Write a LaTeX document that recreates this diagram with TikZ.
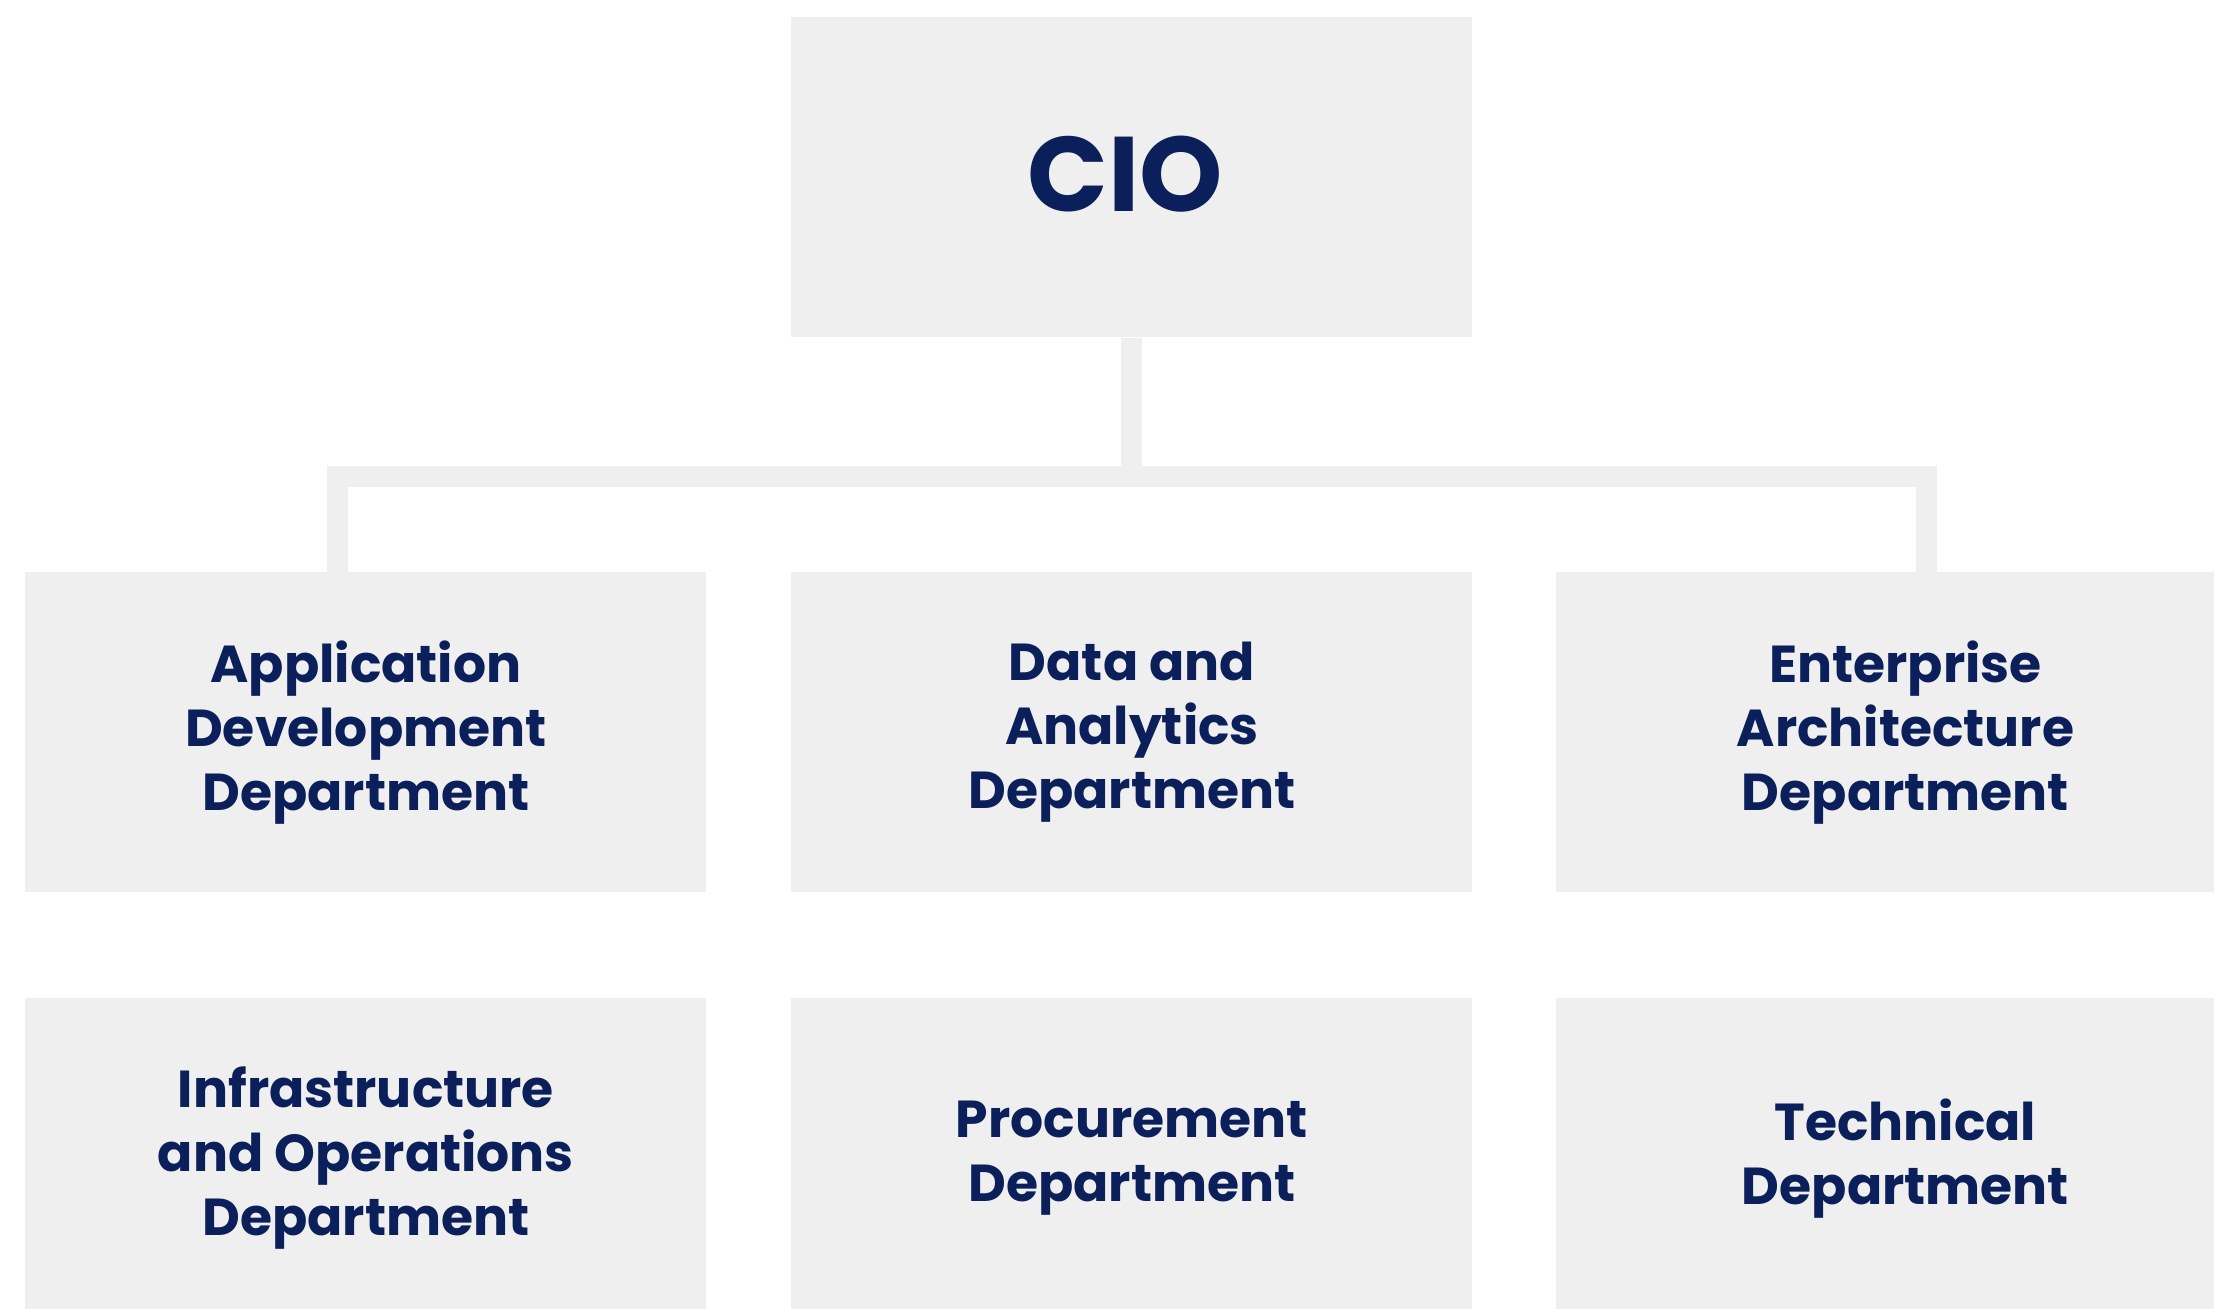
\documentclass[tikz,border=0pt]{standalone}
\usepackage{fontspec}
\setmainfont{Poppins}
\definecolor{navy}{HTML}{0B1F5A}
\definecolor{boxgrey}{HTML}{EFEFEF}

\tikzset{
  unit/.style={fill=boxgrey, anchor=north west, inner sep=0pt, align=center,
    minimum width=340.5pt, minimum height=160pt, text=navy,
    font=\fontsize{26}{32}\selectfont\bfseries},
  link/.style={draw=boxgrey, line width=10.5pt, line join=miter}
}

\begin{document}
\begin{tikzpicture}[x=0.5pt,y=0.5pt,yscale=-1,xscale=1]
		\useasboundingbox (0,0) rectangle (2214,1309);
		\clip (0,0) rectangle (2214,1309);

		% Top box
		\node[unit, font=\fontsize{53}{60}\selectfont\bfseries] (cio) at (791,17) {\raisebox{3.5pt}{CIO}\hspace{7pt}};

		% Second row
		\node[unit] (appdev) at (25,572) {Application\\Development\\Department};
		\node[unit] (data) at (791,572) {Data and\\Analytics\\Department};
		\node[unit, minimum width=349pt] (entarch) at (1556,572) {Enterprise\\Architecture\\Department};

		% Third row
		\node[unit] (infra) at (25,998) {Infrastructure\\and Operations\\Department};
		\node[unit] (procure) at (791,998) {Procurement\\Department};
		\node[unit, minimum width=349pt] (tech) at (1556,998) {Technical\\Department};

		% Connector from CIO to the outer boxes
		\coordinate (jl) at (337.5,476.5);
		\coordinate (jr) at (1926,476.5);
		\draw[link] (cio.south) -- (cio.south |- jl);
		\draw[link] (appdev.north -| jl) -- (jl) -- (jr) -- (entarch.north -| jr);
	\end{tikzpicture}
\end{document}
